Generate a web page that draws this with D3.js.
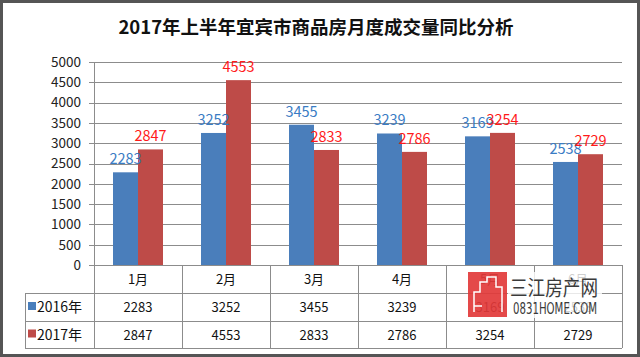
<!DOCTYPE html>
<html><head><meta charset="utf-8">
<script src="https://cdn.jsdelivr.net/npm/d3@7"></script>
<style>body{margin:0;background:#fff}svg{display:block}</style>
</head><body>
<script>
const categories = ["1月","2月","3月","4月","5月","6月"];
const seriesNames = ["2016年","2017年"];
const values2016 = [2283,3252,3455,3239,3169,2538];
const values2017 = [2847,4553,2833,2786,3254,2729];
const yTicks = [0,500,1000,1500,2000,2500,3000,3500,4000,4500,5000];
const title = "2017年上半年宜宾市商品房月度成交量同比分析";

(function(){
const W=640,H=357;
const font = "'Noto Sans CJK SC', sans-serif";
const colors = ["#4A7EBB","#BE4B48"];
const labelColors = ["#3A7CC4","#FF1A1A"];
const svg = d3.select("body").append("svg").attr("width",W).attr("height",H);
svg.append("rect").attr("x",1.5).attr("y",1.5).attr("width",W-3).attr("height",H-3)
  .attr("fill","#fff").attr("stroke","#555").attr("stroke-width",3);

svg.append("text").attr("x",316).attr("y",34).attr("text-anchor","middle")
  .attr("font-family",font).attr("font-weight","bold").attr("font-size",18.5).attr("fill","#111").text(title);

const pl=94,pr=622,pt=62,pb=265;
const x = d3.scaleBand().domain(categories).range([pl,pr]);
const y = d3.scaleLinear().domain([0,5000]).range([pb,pt]);
const xs = d3.scaleBand().domain(seriesNames).range([0,50]);

svg.append("g").selectAll("line").data(yTicks).join("line")
  .attr("x1",pl-5).attr("x2",pr).attr("y1",d=>Math.round(y(d))+0.5).attr("y2",d=>Math.round(y(d))+0.5)
  .attr("stroke","#8c8c8c").attr("stroke-width",1);
svg.append("line").attr("x1",pl+0.5).attr("x2",pl+0.5).attr("y1",pt).attr("y2",pb).attr("stroke","#8c8c8c");

const yAxis = d3.axisLeft(y).tickValues(yTicks).tickFormat(d3.format("d")).tickSize(0).tickPadding(13);
const ga = svg.append("g").attr("transform",`translate(${pl},0)`).call(yAxis);
ga.select(".domain").remove();
ga.selectAll("text").attr("font-family",font).attr("font-size",13.5).attr("fill","#222");

const data = categories.map((c,i)=>({c, v:[values2016[i],values2017[i]]}));
const groups = svg.append("g").selectAll("g").data(data).join("g")
  .attr("transform",d=>`translate(${x(d.c)+x.bandwidth()/2-25},0)`);
groups.selectAll("rect").data(d=>d.v.map((v,k)=>({v,k}))).join("rect")
  .attr("x",d=>xs(seriesNames[d.k])).attr("width",xs.bandwidth())
  .attr("y",d=>y(d.v)).attr("height",d=>pb-y(d.v)).attr("fill",d=>colors[d.k]);
groups.selectAll("text").data(d=>d.v.map((v,k)=>({v,k}))).join("text")
  .attr("x",d=>xs(seriesNames[d.k])+xs.bandwidth()/2).attr("y",d=>y(d.v)-8)
  .attr("text-anchor","middle").attr("font-family",font).attr("font-size",14.5)
  .attr("fill",d=>labelColors[d.k]).text(d=>d.v);

const rowY=[265,293,321,348];
const tg = svg.append("g").attr("stroke","#8c8c8c").attr("stroke-width",1).attr("fill","none");
tg.append("line").attr("x1",pl).attr("x2",pr).attr("y1",rowY[0]+0.5).attr("y2",rowY[0]+0.5);
[1,2,3].forEach(i=>tg.append("line").attr("x1",25).attr("x2",pr).attr("y1",rowY[i]+0.5).attr("y2",rowY[i]+0.5));
tg.append("line").attr("x1",25.5).attr("x2",25.5).attr("y1",rowY[1]).attr("y2",rowY[3]);
const cols = categories.map(c=>x(c)).concat([pr]);
cols.forEach(cx=>tg.append("line").attr("x1",Math.round(cx)+0.5).attr("x2",Math.round(cx)+0.5).attr("y1",rowY[0]).attr("y2",rowY[3]));

svg.append("g").selectAll("text").data(categories).join("text")
  .attr("x",d=>x(d)+x.bandwidth()/2).attr("y",(rowY[0]+rowY[1])/2+5).attr("text-anchor","middle")
  .attr("font-family",font).attr("font-size",13).attr("fill","#111").text(d=>d);
[values2016,values2017].forEach((vals,k)=>{
  const cy=(rowY[k+1]+rowY[k+2])/2+5;
  svg.append("g").selectAll("text").data(vals).join("text")
    .attr("x",(d,i)=>x(categories[i])+x.bandwidth()/2).attr("y",cy).attr("text-anchor","middle")
    .attr("font-family",font).attr("font-size",13).attr("fill","#111").text(d=>d);
  svg.append("rect").attr("x",28).attr("y",cy-10).attr("width",8).attr("height",8).attr("fill",colors[k]);
  svg.append("text").attr("x",37).attr("y",cy).attr("font-family",font).attr("font-size",14).attr("fill","#111").text(seriesNames[k]);
});

// watermark overlay
const wm = svg.append("g");
wm.append("rect").attr("x",508).attr("y",272).attr("width",94).attr("height",46).attr("fill","#fff").attr("opacity",0.8);
wm.append("rect").attr("x",468).attr("y",272).attr("width",39).attr("height",45).attr("fill","#E23A3A").attr("opacity",0.92);
wm.append("path").attr("d","M474 312 V292 H480 V282 H487 V277 H496 V287 H502 V312 M474 306 H482").attr("fill","none").attr("stroke","#fff").attr("stroke-width",1.5);
wm.append("text").attr("x",510).attr("y",295).attr("font-family",font).attr("font-size",21)
  .attr("textLength",88).attr("lengthAdjust","spacingAndGlyphs").attr("fill","#3a3a3a").text("三江房产网");
wm.append("text").attr("x",513).attr("y",314).attr("font-family","'Liberation Sans Narrow','DejaVu Sans Condensed',sans-serif").attr("font-size",15)
  .attr("textLength",84).attr("lengthAdjust","spacingAndGlyphs").attr("fill","#3a3a3a").text("0831HOME.COM");
})();
</script>
</body></html>
